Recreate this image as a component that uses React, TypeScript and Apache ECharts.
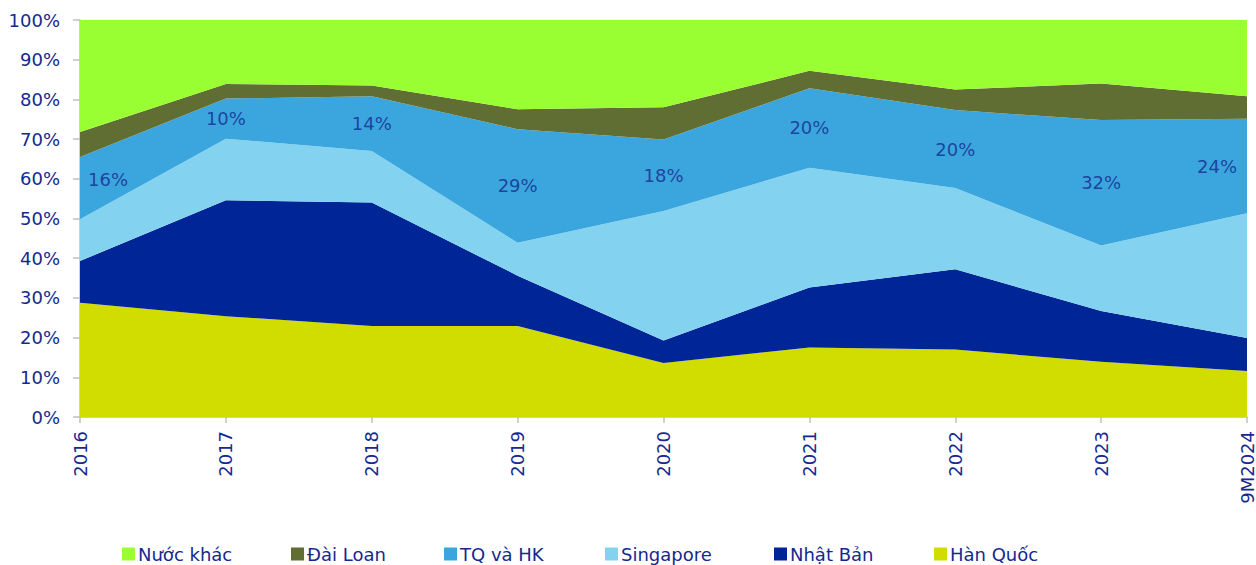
import React, { useEffect, useRef } from "react";
import * as echarts from "echarts";

const categories = ["2016", "2017", "2018", "2019", "2020", "2021", "2022", "2023", "9M2024"];
const hanQuoc = [28.8, 25.4, 22.9, 22.9, 13.6, 17.5, 17.0, 13.9, 11.6];
const nhatBan = [10.5, 29.2, 31.1, 12.7, 5.7, 15.1, 20.2, 12.8, 8.3];
const singapore = [10.5, 15.5, 13.0, 8.3, 32.6, 30.2, 20.5, 16.5, 31.4];
const tqHk = [15.7, 10.1, 13.8, 28.6, 18.0, 20.0, 19.6, 31.6, 23.8];
const daiLoan = [6.3, 3.7, 2.7, 5.0, 8.1, 4.4, 5.2, 9.2, 5.7];
const nuocKhac = [28.2, 16.1, 16.5, 22.5, 22.0, 12.8, 17.5, 16.0, 19.2];
const yTicks = [0, 10, 20, 30, 40, 50, 60, 70, 80, 90, 100];
const legendOrder = ["Nước khác", "Đài Loan", "TQ và HK", "Singapore", "Nhật Bản", "Hàn Quốc"];
const legendLeft = [122, 291, 444, 605, 774, 934];

const TEXT = "#14298F";
const FONT = "DejaVu Sans";
const FS = 18;

export default function App() {
  const ref = useRef<HTMLDivElement>(null);
  useEffect(() => {
    if (!ref.current) return;
    const chart = echarts.init(ref.current, undefined, { renderer: "svg" });
    const mk = (name: string, data: number[], color: string) => ({
      name,
      type: "line",
      stack: "total",
      data,
      symbol: "none",
      lineStyle: { width: 0, color },
      itemStyle: { color },
      areaStyle: { color, opacity: 1 },
      emphasis: { disabled: true },
    });
    const mids = categories.map((_, i) => {
      const bottom = hanQuoc[i] + nhatBan[i] + singapore[i];
      return bottom + tqHk[i] / 2;
    });
    const last = categories.length - 1;
    const labelData = mids.map((m, i) => {
      const item: any = { value: m, tq: tqHk[i] };
      if (i === 0) item.label = { align: "left", offset: [8, -9] };
      if (i === last) item.label = { align: "right", offset: [-10, 0] };
      return item;
    });
    const legends = legendOrder.map((name, i) => ({
      left: legendLeft[i],
      top: 545,
      padding: 0,
      itemWidth: 13,
      itemHeight: 13,
      icon: "rect",
      selectedMode: false,
      data: [name],
      textStyle: { color: TEXT, fontSize: FS, fontFamily: FONT, padding: [0, 0, 0, -2] },
    }));
    chart.setOption({
      animation: false,
      textStyle: { fontFamily: FONT },
      grid: { left: 80, right: 9, top: 20, bottom: 148, containLabel: false },
      legend: legends,
      xAxis: {
        type: "category",
        data: categories,
        boundaryGap: false,
        axisLine: { lineStyle: { color: "#BFBFBF", width: 1.5 } },
        axisTick: { alignWithLabel: true, length: 6, lineStyle: { color: "#BFBFBF", width: 1.5 } },
        axisLabel: { rotate: 90, margin: 14, color: TEXT, fontSize: FS, fontFamily: FONT, interval: 0 },
        splitLine: { show: false },
      },
      yAxis: {
        type: "value",
        min: yTicks[0],
        max: yTicks[yTicks.length - 1],
        interval: 10,
        axisLine: { show: true, lineStyle: { color: "#BFBFBF", width: 1.5 } },
        axisTick: { show: true, length: 7, lineStyle: { color: "#BFBFBF", width: 1.5 } },
        axisLabel: { margin: 20, color: TEXT, fontSize: FS, fontFamily: FONT, formatter: (v: number) => v + "%" },
        splitLine: { show: false },
      },
      series: [
        mk("Hàn Quốc", hanQuoc, "#D1DC00"),
        mk("Nhật Bản", nhatBan, "#002596"),
        mk("Singapore", singapore, "#83D3F0"),
        mk("TQ và HK", tqHk, "#3BA6DD"),
        mk("Đài Loan", daiLoan, "#606E33"),
        mk("Nước khác", nuocKhac, "#99FF33"),
        {
          name: "labels",
          type: "scatter",
          data: labelData,
          symbolSize: 0,
          silent: true,
          z: 10,
          label: {
            show: true,
            position: "inside",
            color: TEXT,
            fontSize: FS,
            fontFamily: FONT,
            formatter: (p: any) => Math.round(p.data.tq) + "%",
          },
        },
      ],
    });
    return () => chart.dispose();
  }, []);
  return (
    <div
      ref={ref}
      style={{ position: "absolute", left: 0, top: 0, width: 1256, height: 565, background: "#fff" }}
    />
  );
}
